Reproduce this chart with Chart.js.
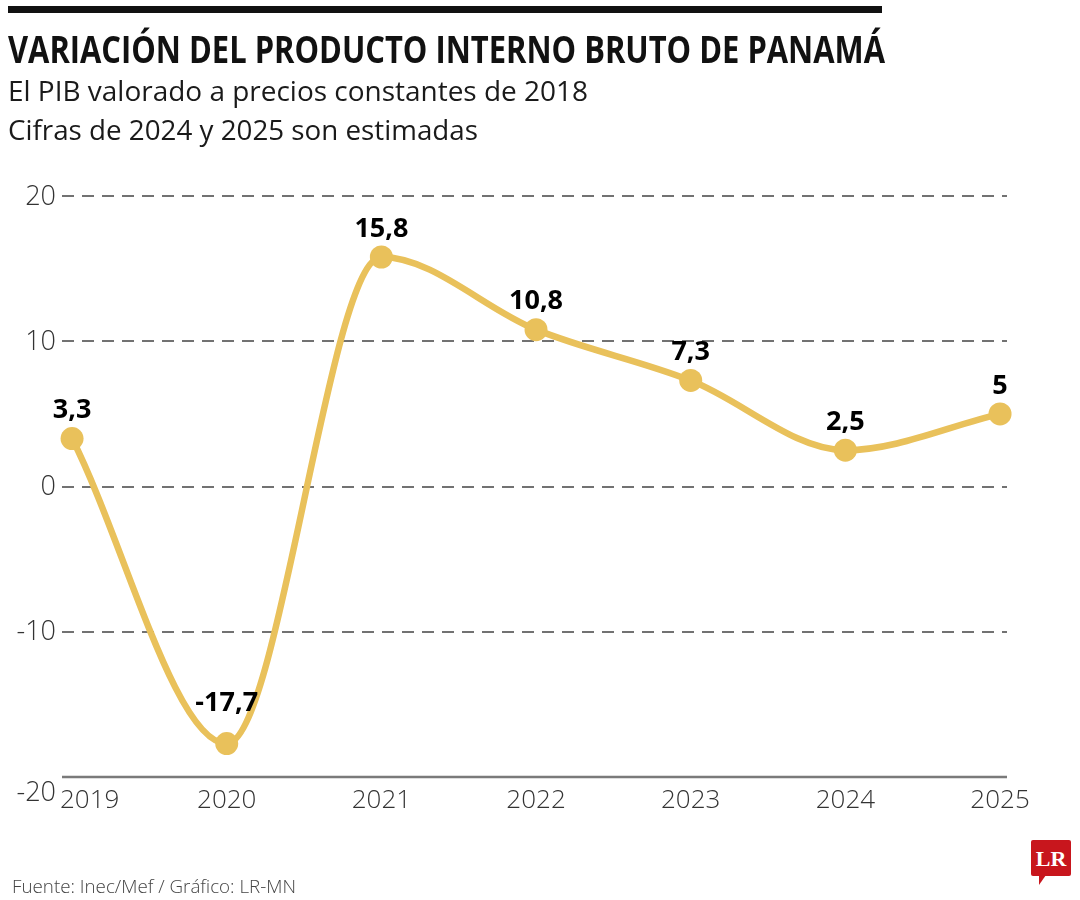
<!DOCTYPE html>
<html><head><meta charset="utf-8">
<script src="https://cdn.jsdelivr.net/npm/chart.js@4/dist/chart.umd.min.js"></script>
<style>
html,body{margin:0;padding:0;background:#fff;width:1080px;height:900px;overflow:hidden}
#wrap{position:relative;width:1080px;height:900px}
#bar{position:absolute;left:8px;top:6px;width:874px;height:7px;background:#111}
.t{position:absolute;white-space:nowrap;transform-origin:0 0;line-height:1}
#title{left:8px;top:22px;font:700 38px "Open Sans";color:#111}
#sub1{left:8px;top:71px;font:400 28px "Open Sans";color:#1a1a1a}
#sub2{left:8px;top:110px;font:400 28px "Open Sans";color:#1a1a1a}
#foot{left:12px;top:873px;font:300 19px "Open Sans";color:#444}
#logo{position:absolute;left:1031px;top:840px;width:40px;height:36px;background:#c8161d;color:#fff;font:700 22px "Liberation Serif",serif;text-align:center;line-height:37px;border-radius:2px}
#tail{position:absolute;left:1039px;top:875px;width:0;height:0;border-left:7px solid #c8161d;border-right:5px solid transparent;border-bottom:10px solid transparent}
canvas{position:absolute;left:0;top:0}
</style></head>
<body><div id="wrap">
<canvas id="c" width="1080" height="900"></canvas>
<div id="bar"></div>
<div class="t" id="title" data-w="877">VARIACIÓN DEL PRODUCTO INTERNO BRUTO DE PANAMÁ</div>
<div class="t" id="sub1" data-w="580">El PIB valorado a precios constantes de 2018</div>
<div class="t" id="sub2" data-w="470">Cifras de 2024 y 2025 son estimadas</div>
<div class="t" id="foot" data-w="284">Fuente: Inec/Mef / Gráfico: LR-MN</div>
<div id="logo">LR</div><div id="tail"></div>
</div>
<script>
const years = ['2019','2020','2021','2022','2023','2024','2025'];
const yearNums = [2019,2020,2021,2022,2023,2024,2025];
const values = [3.3,-17.7,15.8,10.8,7.3,2.5,5];
const valueLabels = ['3,3','-17,7','15,8','10,8','7,3','2,5','5'];
const yTicks = [20,10,0,-10,-20];

document.querySelectorAll('.t[data-w]').forEach(el=>{
  const w = el.getBoundingClientRect().width;
  el.style.transform = 'scaleX(' + (parseFloat(el.dataset.w)/w) + ')';
});

const LINE = '#E9C15B';
const deco = {
  id:'deco',
  beforeDatasetsDraw(chart){
    const {ctx, chartArea:a, scales:{y}} = chart;
    ctx.save();
    yTicks.forEach(v=>{
      const py = Math.round(y.getPixelForValue(v));
      ctx.beginPath();
      if (v === yTicks[yTicks.length-1]) {
        ctx.setLineDash([]); ctx.strokeStyle='#7a7a7a'; ctx.lineWidth=2.5;
      } else {
        ctx.setLineDash([12,8]); ctx.strokeStyle='#444'; ctx.lineWidth=1.4;
      }
      ctx.moveTo(a.left, py); ctx.lineTo(a.right, py); ctx.stroke();
    });
    ctx.restore();
  },
  afterDatasetsDraw(chart){
    const {ctx, chartArea:a, scales:{x,y}} = chart;
    ctx.save();
    ctx.fillStyle='#333';
    ctx.font='300 27px "Open Sans"';
    ctx.textAlign='right'; ctx.textBaseline='middle';
    yTicks.forEach((v,i)=>{
      let py = y.getPixelForValue(v);
      if (i === yTicks.length-1) py += 15;
      ctx.fillText(String(v), a.left-6, py+1);
    });
    ctx.font='300 26px "Open Sans"';
    ctx.textBaseline='middle';
    years.forEach((lab,i)=>{
      const px = x.getPixelForValue(yearNums[i]);
      if (i===0){ ctx.textAlign='left'; ctx.fillText(lab, a.left-2, a.bottom+24); }
      else { ctx.textAlign='center'; ctx.fillText(lab, px, a.bottom+24); }
    });
    ctx.fillStyle='#000';
    ctx.font='700 27px "Open Sans"';
    ctx.textAlign='center'; ctx.textBaseline='middle';
    const meta = chart.getDatasetMeta(0);
    meta.data.forEach((pt,i)=>{
      const off = values[i] === Math.min(...values) ? 40 : 28;
      ctx.fillText(valueLabels[i], pt.x, pt.y-off);
    });
    ctx.restore();
  }
};

new Chart(document.getElementById('c'), {
  type:'line',
  data:{datasets:[{
    data: yearNums.map((yr,i)=>({x:yr, y:values[i]})),
    borderColor:LINE, borderWidth:6.5, cubicInterpolationMode:'monotone',
    pointRadius:11.5, pointBackgroundColor:LINE, pointBorderWidth:0,
    pointHoverRadius:11.5, clip:false, fill:false
  }]},
  options:{
    responsive:false, animation:false,
    layout:{padding:{left:62, right:73, top:196, bottom:123}},
    scales:{
      x:{type:'linear', display:false, min:2018.935, max:2025.045},
      y:{display:false, min:-20, max:20}
    },
    plugins:{legend:{display:false}, tooltip:{enabled:false}}
  },
  plugins:[deco]
});
</script>
</body></html>
